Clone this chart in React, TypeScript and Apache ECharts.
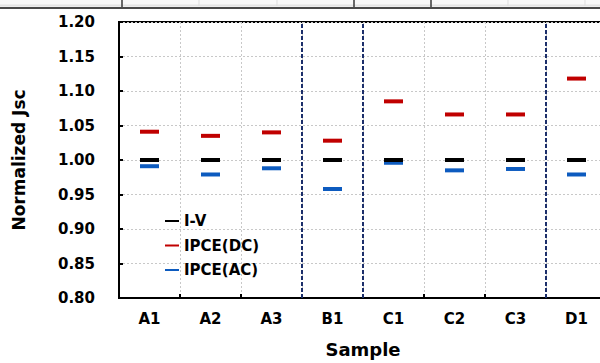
import React, { useEffect, useRef } from "react";
import * as echarts from "echarts";

const categories = ["A1", "A2", "A3", "B1", "C1", "C2", "C3", "D1"];
const ivValues = [1.0, 1.0, 1.0, 1.0, 1.0, 1.0, 1.0, 1.0];
const ipceDC = [1.041, 1.035, 1.04, 1.028, 1.085, 1.066, 1.066, 1.118];
const ipceAC = [0.991, 0.979, 0.988, 0.958, 0.996, 0.985, 0.987, 0.979];
const groupDividers = [3, 4, 7];
const yTicks = { min: 0.8, max: 1.2, step: 0.05 };

const FONT = "DejaVu Sans";

export default function App() {
  const ref = useRef<HTMLDivElement>(null);
  useEffect(() => {
    if (!ref.current) return;
    const chart = echarts.init(ref.current, undefined, { renderer: "svg" });
    const header: any[] = [
      { type: "rect", shape: { x: 0, y: 0, width: 620, height: 7 }, style: { fill: "#f8f8f8" }, z: 0 },
      { type: "rect", shape: { x: 0, y: 4.5, width: 620, height: 2 }, style: { fill: "#e4e4e4" }, z: 0 },
      { type: "rect", shape: { x: 0, y: 7, width: 620, height: 2 }, style: { fill: "#4a4a4a" }, z: 1 },
    ];
    [122, 354, 431].forEach((x) =>
      header.push({ type: "line", shape: { x1: x, y1: 0, x2: x, y2: 7 }, style: { stroke: "#3a3a3a", lineWidth: 1.5 }, z: 1 })
    );
    [199, 277, 508, 585].forEach((x) =>
      header.push({ type: "line", shape: { x1: x, y1: 0, x2: x, y2: 6 }, style: { stroke: "#dddddd", lineWidth: 1 }, z: 1 })
    );
    const marker = (name: string, data: number[], color: string, z: number) => ({
      name,
      type: "scatter",
      xAxisIndex: 0,
      yAxisIndex: 0,
      symbol: "rect",
      symbolSize: [19, 4],
      itemStyle: { color, opacity: 1 },
      data,
      z,
    });
    chart.setOption({
      animation: false,
      textStyle: { fontFamily: FONT },
      graphic: header,
      grid: {
        left: 119,
        top: 22,
        width: 488,
        height: 279,
        show: true,
        borderColor: "#000",
        borderWidth: 2,
      },
      legend: {
        orient: "vertical",
        left: 165,
        top: 213,
        padding: 0,
        itemWidth: 14,
        itemHeight: 2,
        itemGap: 8.5,
        icon: "rect",
        data: ["I-V", "IPCE(DC)", "IPCE(AC)"],
        textStyle: { fontFamily: FONT, fontWeight: "bold", fontSize: 15, color: "#000", lineHeight: 16 },
      },
      xAxis: [
        {
          type: "category",
          data: categories,
          position: "bottom",
          name: "Sample",
          nameLocation: "middle",
          nameGap: 42,
          nameTextStyle: { fontFamily: FONT, fontWeight: "bold", fontSize: 18, color: "#000" },
          axisLine: { lineStyle: { color: "#000", width: 2 } },
          axisTick: { show: true, inside: true, length: 4, lineStyle: { color: "#000", width: 2 } },
          axisLabel: { fontFamily: FONT, fontWeight: "bold", fontSize: 15, color: "#000", margin: 13 },
          splitLine: { show: true, lineStyle: { color: "#c8c8c8", type: [2, 2], width: 1 } },
        },
        {
          type: "value",
          min: 0,
          max: 8,
          show: false,
          position: "top",
        },
      ],
      yAxis: {
        type: "value",
        min: yTicks.min,
        max: yTicks.max,
        interval: yTicks.step,
        name: "Normalized Jsc",
        nameLocation: "middle",
        nameGap: 92,
        nameTextStyle: { fontFamily: FONT, fontWeight: "bold", fontSize: 17, color: "#000" },
        axisLine: { show: true, lineStyle: { color: "#000", width: 2 } },
        axisTick: { show: true, inside: true, length: 4, lineStyle: { color: "#000", width: 2 } },
        axisLabel: {
          fontFamily: FONT,
          fontWeight: "bold",
          fontSize: 15,
          color: "#000",
          margin: 24,
          formatter: (v: number) => v.toFixed(2),
        },
        splitLine: { show: true, lineStyle: { color: "#c8c8c8", type: [2, 2], width: 1 } },
      },
      series: [
        {
          name: "dividers",
          type: "line",
          xAxisIndex: 1,
          yAxisIndex: 0,
          data: [
            [0, yTicks.min],
            [8, yTicks.min],
          ],
          symbol: "none",
          lineStyle: { width: 0, opacity: 0 },
          silent: true,
          markLine: {
            silent: true,
            symbol: "none",
            label: { show: false },
            lineStyle: { color: "#1c2f6b", type: [4, 2], width: 2 },
            data: groupDividers.map((x) => ({ xAxis: x })),
          },
          z: 3,
        },
        marker("IPCE(AC)", ipceAC, "#0d5bbf", 4),
        marker("IPCE(DC)", ipceDC, "#c00000", 5),
        marker("I-V", ivValues, "#000000", 6),
      ],
    });
    return () => chart.dispose();
  }, []);
  return (
    <div
      ref={ref}
      style={{ position: "fixed", left: 0, top: 0, width: 620, height: 363, background: "#fff" }}
    />
  );
}
